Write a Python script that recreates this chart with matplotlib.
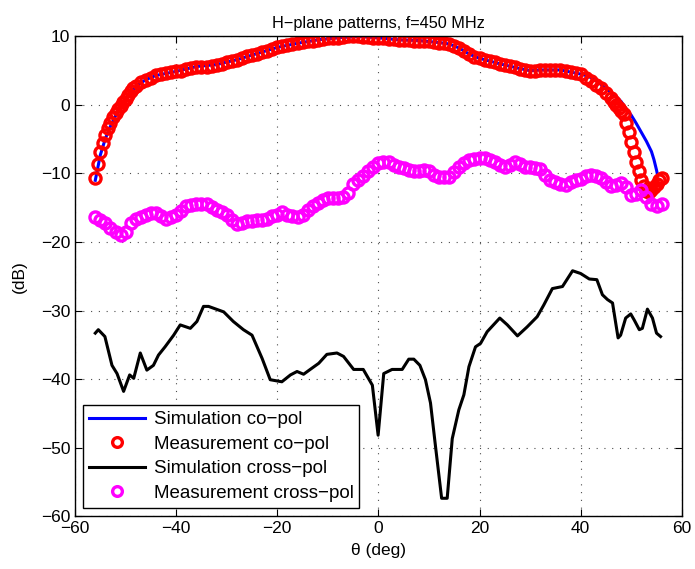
import numpy as np
import matplotlib
matplotlib.use('Agg')
import matplotlib.pyplot as plt

plt.rcParams['font.family'] = ['Liberation Sans', 'DejaVu Sans']

# measured co-pol (finer steps at the steep edges)
theta_meas_co = [-56, -55.5, -55, -54.5, -54, -53.5, -53, -52.5, -52, -51.5,
                 -51, -50.5, -50, -49.5, -49, -48.5, -48,
                 -47, -46, -45, -44, -43, -42, -41, -40, -39, -38,
                 -37, -36, -35, -34, -33, -32, -31, -30, -29, -28,
                 -27, -26, -25, -24, -23, -22, -21, -20, -19, -18,
                 -17, -16, -15, -14, -13, -12, -11, -10, -9, -8,
                 -7, -6, -5, -4, -3, -2, -1, 0, 1, 2,
                 3, 4, 5, 6, 7, 8, 9, 10, 11, 12,
                 13, 14, 15, 16, 17, 18, 19, 20, 21, 22,
                 23, 24, 25, 26, 27, 28, 29, 30, 31, 32,
                 33, 34, 35, 36, 37, 38, 39, 40, 41, 42,
                 43, 44, 45, 46, 46.5, 47, 47.5, 48, 48.5, 49,
                 49.5, 50, 50.5, 51, 51.5, 52, 52.5, 53, 53.5, 54,
                 54.5, 55, 55.5, 56]
meas_co = [-10.7, -8.6, -6.9, -5.5, -4.4, -3.4, -2.6, -1.8, -1.2, -0.6,
           -0.1, 0.4, 0.9, 1.4, 2.0, 2.4, 2.8,
           3.3, 3.7, 4.0, 4.3, 4.5, 4.6, 4.8, 4.9, 5.0, 5.2,
           5.4, 5.5, 5.6, 5.6, 5.7, 5.9, 6.0, 6.2, 6.4, 6.6,
           6.9, 7.1, 7.3, 7.5, 7.7, 7.9, 8.1, 8.4, 8.6, 8.8,
           8.9, 9.0, 9.2, 9.3, 9.4, 9.5, 9.6, 9.7, 9.7, 9.8,
           9.9, 10.0, 10.0, 10.0, 9.9, 9.9, 9.8, 9.8, 9.7, 9.6,
           9.6, 9.5, 9.5, 9.5, 9.4, 9.4, 9.3, 9.3, 9.2, 9.1,
           9.0, 8.9, 8.6, 8.3, 7.9, 7.4, 7.0, 6.8, 6.6, 6.4,
           6.2, 6.0, 5.9, 5.7, 5.5, 5.3, 5.1, 5.0, 5.0, 5.1,
           5.1, 5.1, 5.1, 5.1, 5.0, 4.8, 4.7, 4.5, 4.0, 3.5,
           2.9, 2.4, 1.7, 1.0, 0.5, 0.0, -0.5, -0.9, -1.3, -2.6,
           -3.9, -5.4, -6.8, -8.4, -9.7, -11.0, -11.9, -12.5, -12.7, -12.4,
           -12.0, -11.5, -11.0, -10.6]

# measured cross-pol (1 deg steps)
theta_meas_x = list(range(-56, 57))
meas_cross = [-16.3, -16.8, -17.3, -18.0, -18.6, -19.0, -18.5, -17.2, -16.6, -16.3,
              -16.1, -15.8, -15.7, -16.2, -16.7, -16.4, -16.1, -15.5, -14.8, -14.6,
              -14.5, -14.4, -14.5, -14.9, -15.3, -15.6, -16.1, -16.8, -17.4, -17.2,
              -17.0, -16.9, -16.8, -16.8, -16.6, -16.2, -16.0, -15.6, -16.0, -16.2,
              -16.3, -16.0, -15.4, -14.7, -14.3, -13.9, -13.6, -13.6, -13.6, -13.4,
              -12.9, -11.6, -11.0, -10.4, -9.7, -9.0, -8.5, -8.3, -8.4, -8.8,
              -9.0, -9.2, -9.5, -9.7, -9.7, -9.5, -9.6, -10.2, -10.5, -10.5,
              -10.5, -9.8, -9.0, -8.5, -8.0, -7.9, -7.8, -7.8, -8.1, -8.4,
              -8.7, -9.0, -8.8, -8.3, -8.6, -9.0, -9.1, -9.2, -9.4, -10.2,
              -10.9, -11.3, -11.6, -11.7, -11.3, -11.0, -10.8, -10.4, -10.2, -10.4,
              -10.7, -11.2, -11.9, -11.7, -11.4, -12.0, -13.2, -13.0, -12.4, -13.5,
              -14.4, -14.8, -14.4]

# simulated co-pol
theta_sim_co = [-56, -55, -54, -53, -52, -51, -50, -49, -48, -46, -44, -42, -40,
                -36, -32, -28, -24, -20, -16, -12, -8, -4, 0, 4, 8, 12, 14,
                16, 18, 20, 24, 28, 30, 32, 36, 38, 40, 41, 42, 43, 44, 45, 46,
                47, 48, 49, 50, 51, 52, 53, 54, 54.5, 55, 55.2]
sim_co = [-11.0, -7.3, -4.9, -3.1, -1.6, -0.4, 0.8, 1.8, 2.7, 3.7, 4.3, 4.6, 4.9,
          5.6, 5.9, 6.6, 7.5, 8.4, 9.0, 9.5, 9.8, 10.0, 9.8, 9.5, 9.4, 9.1, 8.9,
          8.3, 7.4, 6.8, 6.0, 5.3, 5.0, 5.1, 5.1, 4.8, 4.5, 4.3, 4.0, 3.6, 3.0, 2.4, 1.8,
          1.2, 0.5, -0.6, -1.5, -2.7, -4.0, -5.3, -6.8, -8.0, -9.5, -10.2]

# simulated cross-pol
theta_sim_x = [-56.0, -55.4, -54.1, -52.7, -51.7, -50.4, -49.2, -48.4, -47.1, -45.8,
               -44.5, -43.5, -42.2, -40.5, -39.2, -37.2, -35.9, -34.6, -33.6, -30.6,
               -28.7, -26.7, -25.0, -23.0, -21.4, -19.1, -17.4, -16.1, -14.8, -13.5,
               -11.8, -10.2, -8.2, -6.9, -4.9, -3.0, -1.2, -0.06, 1.05, 2.7,
               4.7, 6.0, 7.0, 8.2, 9.3, 10.3, 11.3, 12.5, 13.6, 14.6,
               15.9, 16.9, 17.9, 19.2, 20.2, 21.5, 24.0, 25.5, 27.5, 29.4,
               31.4, 32.7, 34.4, 36.4, 38.4, 40.0, 41.7, 43.2, 44.3, 45.3,
               46.3, 47.4, 47.9, 48.9, 49.9, 50.6, 51.6, 52.2, 53.2, 54.2,
               55.0, 55.8]
sim_x = [-33.3, -32.8, -33.8, -38.0, -39.2, -41.8, -39.4, -39.9, -36.2, -38.7,
         -38.0, -36.5, -35.3, -33.6, -32.1, -32.6, -31.6, -29.4, -29.4, -30.2,
         -31.6, -32.8, -33.6, -37.0, -40.1, -40.4, -39.4, -38.9, -39.3, -38.6,
         -37.7, -36.4, -36.2, -36.7, -38.6, -38.6, -40.9, -48.2, -39.2, -38.6,
         -38.6, -37.1, -37.1, -38.0, -40.1, -43.5, -49.9, -57.4, -57.4, -48.7,
         -44.5, -42.3, -38.2, -35.3, -34.8, -33.1, -31.1, -32.1, -33.7, -32.4,
         -30.9, -29.2, -26.8, -26.5, -24.2, -24.6, -25.4, -25.5, -27.7, -28.4,
         -28.9, -34.0, -33.6, -31.1, -30.5, -31.4, -32.8, -32.6, -29.8, -31.1,
         -33.3, -33.8]

fig = plt.figure(figsize=(6.95, 5.69), dpi=100)
ax = fig.add_axes([0.108, 0.093, 0.873, 0.843])

ax.plot(theta_sim_co, sim_co, color='blue', lw=2.2, label='Simulation co\u2212pol')
ax.plot(theta_meas_co, meas_co, 'o', color='red', mfc='none', mec='red', ms=8, mew=2.4,
        label='Measurement co\u2212pol')
ax.plot(theta_sim_x, sim_x, color='black', lw=2.2, label='Simulation cross\u2212pol')
ax.plot(theta_meas_x, meas_cross, 'o', color='magenta', mfc='none', mec='magenta', ms=8, mew=2.4,
        label='Measurement cross\u2212pol')

ax.set_xlim(-60, 60)
ax.set_ylim(-60, 10)
ax.set_xticks(range(-60, 61, 20))
ax.set_yticks(range(-60, 11, 10))
ax.grid(True, linestyle=(0, (1, 6)), color='0.3', lw=0.8)
ax.tick_params(direction='in', top=True, right=True, labelsize=12.5, length=5)
for s in ax.spines.values():
    s.set_linewidth(1)

ax.set_title('H\u2212plane patterns, f=450 MHz', fontsize=11.7)
ax.set_xlabel('\u03b8 (deg)', fontsize=12.5, labelpad=5)
ax.set_ylabel('(dB)', fontsize=12.5, labelpad=10)

leg = ax.legend(loc='lower left', fontsize=13.5, frameon=True, fancybox=False,
                edgecolor='black', framealpha=1, borderaxespad=0.45,
                handlelength=3.0, handletextpad=0.45, labelspacing=0.4, borderpad=0.3)
leg.get_frame().set_linewidth(1)
for h in leg.legend_handles:
    if h.get_marker() == 'o':
        h.set_markersize(7)

fig.savefig('out.png', dpi=100)
